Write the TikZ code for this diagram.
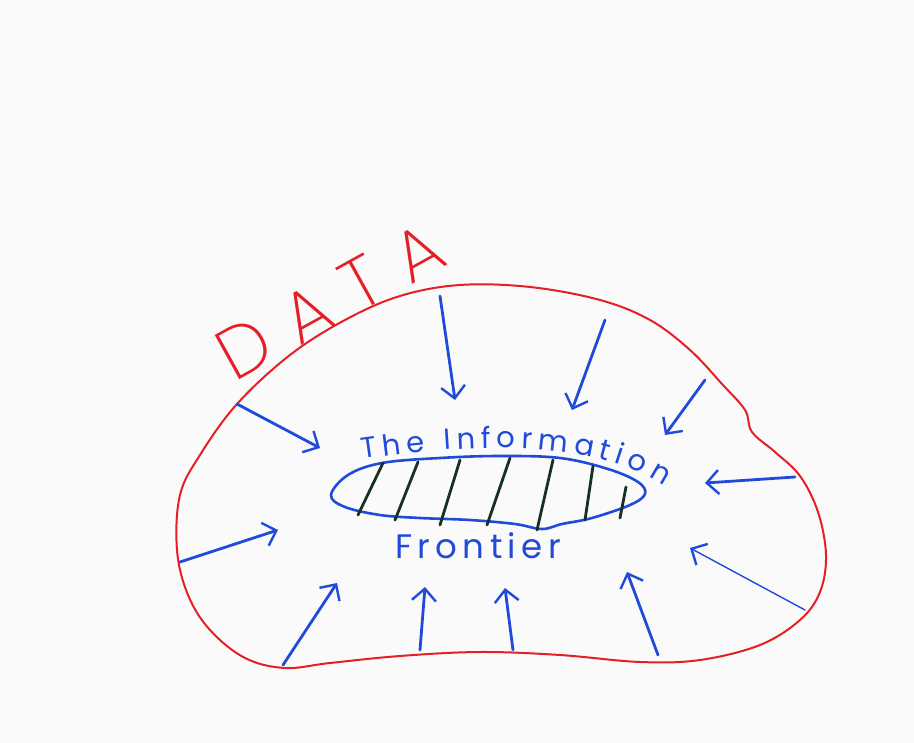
\documentclass[tikz,border=0pt]{standalone}
\usepackage{fontspec}
\setmainfont{Poppins}
\newfontfamily\thinfont{Poppins ExtraLight}
\usetikzlibrary{arrows.meta,decorations.text}
\definecolor{inkred}{RGB}{228,32,38}
\definecolor{inkblue}{RGB}{32,74,218}
\definecolor{inkdark}{RGB}{22,48,36}
\definecolor{paper}{RGB}{250,250,250}
\begin{document}
\begin{tikzpicture}[x=1pt,y=-1pt,
  blob/.style={draw=inkred,line width=2pt,line join=round},
  ray/.style={draw=inkblue,line width=2.8pt,line cap=round,
    -{Straight Barb[length=12pt,width=24pt,line width=2.4pt]}},
  thinray/.style={ray,line width=1.4pt},
  frontier/.style={draw=inkblue,line width=2.6pt},
  hatch/.style={draw=inkdark,line width=2.8pt,line cap=round},
  label/.style={text=inkblue,font=\fontsize{34}{40}\selectfont}
]
% canvas
\fill[paper] (0,0) rectangle (914,743);
\useasboundingbox (0,0) rectangle (914,743);

% the data region
\draw[blob] plot[smooth cycle,tension=0.6] coordinates {
  (237,404) (290,355) (345,320) (400,296) (460,285) (530,287) (600,300)
  (650,320) (690,350) (722,384) (745,410) (752,432) (775,452) (800,476)
  (818,512) (826,555) (820,592) (800,620) (760,645) (700,660) (640,662)
  (560,655) (480,652) (400,656) (330,663) (285,668) (245,658) (210,630)
  (188,595) (177,550) (180,495) (200,455)};

% DATA title
\node[text=inkred,rotate=29,font=\thinfont\fontsize{72}{80}\selectfont\addfontfeature{LetterSpace=32}]
  (data) at (330,301) {DATA};

% inward arrows
\coordinate (s1) at (440,296);  \coordinate (e1) at (455,400);
\coordinate (s2) at (605,320);  \coordinate (e2) at (572,410);
\coordinate (s3) at (705,380);  \coordinate (e3) at (665,435);
\coordinate (s4) at (795,477);  \coordinate (e4) at (705,483);
\coordinate (s5) at (805,610);  \coordinate (e5) at (690,548);
\coordinate (s6) at (658,655);  \coordinate (e6) at (627,572);
\coordinate (s7) at (513,650);  \coordinate (e7) at (505,588);
\coordinate (s8) at (420,650);  \coordinate (e8) at (425,587);
\coordinate (s9) at (283,665);  \coordinate (e9) at (337,583);
\coordinate (s10) at (180,562); \coordinate (e10) at (278,530);
\coordinate (s11) at (237,404); \coordinate (e11) at (320,448);
\foreach \i in {1,2,3,4,6,7,8,9,10,11} \draw[ray] (s\i) -- (e\i);
\draw[thinray] (s5) -- (e5);

% the frontier
\draw[frontier] plot[smooth cycle,tension=0.6] coordinates {
  (331,495) (348,475) (382,463) (440,458) (500,456) (560,458) (608,469)
  (638,482) (645,494) (630,505) (592,518) (562,524) (542,529) (515,524)
  (470,520) (420,518) (380,515) (345,507)};

% hatching inside the frontier
\foreach \a/\b/\c/\d in {358/515/383/463, 395/520/418/462, 440/525/460/460,
  487/525/510/458, 537/530/553/460, 585/520/593/466, 620/518/626/487}
  \draw[hatch] (\a,\b) -- (\c,\d);

% labels
\path[decorate,decoration={text along path,text align={fit to path},
  text={|\color{inkblue}\fontsize{29}{35}\selectfont|The Information}}]
  (362,459) .. controls (480,442) and (595,440) .. (664,486);
\node[label] (front) at (478,546) {\addfontfeature{LetterSpace=16}Frontier};
\end{tikzpicture}
\end{document}
